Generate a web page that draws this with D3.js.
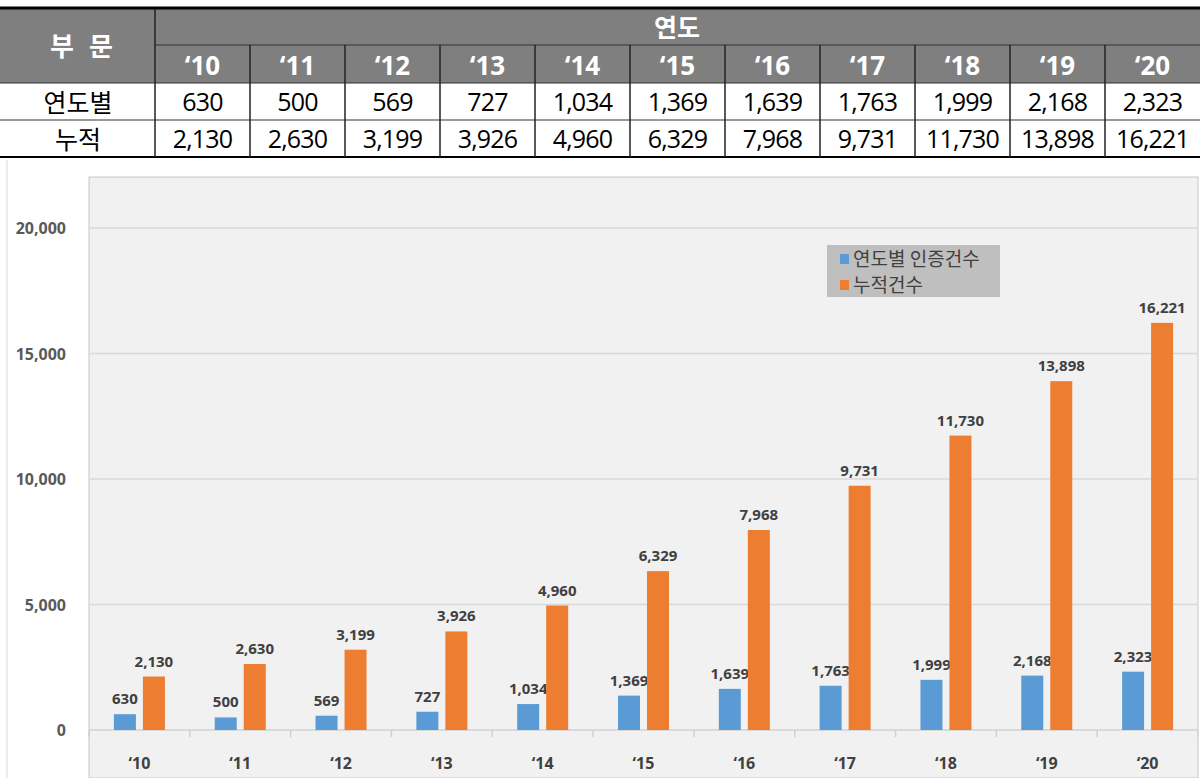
<!DOCTYPE html>
<html><head><meta charset="utf-8">
<script src="https://cdn.jsdelivr.net/npm/d3@7"></script>
<style>body{margin:0;background:#fff;}svg{display:block;}</style>
</head><body>
<svg id="c" width="1200" height="778"></svg>
<script>
const years = ["‘10","‘11","‘12","‘13","‘14","‘15","‘16","‘17","‘18","‘19","‘20"];
const annual = [630,500,569,727,1034,1369,1639,1763,1999,2168,2323];
const cumulative = [2130,2630,3199,3926,4960,6329,7968,9731,11730,13898,16221];
const yTicks = [0,5000,10000,15000,20000];
const seriesNames = ["연도별 인증건수","누적건수"];
const rowNames = ["연도별","누적"];
const headerLabels = ["부","문","연도"];

const svg = d3.select("#c");
const fmt = d3.format(",");
const KR = "'Noto Sans CJK KR','Noto Sans',sans-serif";
const OS = "'Open Sans',sans-serif";

// ---------- table ----------
const tx = d3.scaleBand().domain(years).range([155,1200]);
const tg = svg.append("g");
tg.append("rect").attr("x",0).attr("y",9).attr("width",1200).attr("height",74).attr("fill","#7f7f7f");
tg.append("line").attr("x1",0).attr("x2",1200).attr("y1",8).attr("y2",8).attr("stroke","#000").attr("stroke-width",3);
tg.append("line").attr("x1",155).attr("x2",1200).attr("y1",45).attr("y2",45).attr("stroke","#333").attr("stroke-width",1);
tg.append("line").attr("x1",0).attr("x2",1200).attr("y1",83).attr("y2",83).attr("stroke","#333").attr("stroke-width",1);
tg.append("line").attr("x1",0).attr("x2",1200).attr("y1",120).attr("y2",120).attr("stroke","#333").attr("stroke-width",1);
tg.append("line").attr("x1",0).attr("x2",1200).attr("y1",157).attr("y2",157).attr("stroke","#000").attr("stroke-width",2);
tg.append("line").attr("x1",155).attr("x2",155).attr("y1",9).attr("y2",157).attr("stroke","#222").attr("stroke-width",1.5);
years.forEach((y,i)=>{
  if(i>0) tg.append("line").attr("x1",tx(y)).attr("x2",tx(y)).attr("y1",45).attr("y2",157).attr("stroke","#222").attr("stroke-width",1.5);
});
tg.append("text").attr("x",62).attr("y",56).attr("text-anchor","middle").attr("font-family",KR).attr("font-weight","bold").attr("font-size",26).attr("fill","#fff").text(headerLabels[0]);
tg.append("text").attr("x",101).attr("y",56).attr("text-anchor","middle").attr("font-family",KR).attr("font-weight","bold").attr("font-size",26).attr("fill","#fff").text(headerLabels[1]);
tg.append("text").attr("x",677).attr("y",37).attr("text-anchor","middle").attr("font-family",KR).attr("font-weight","bold").attr("font-size",25).attr("fill","#fff").text(headerLabels[2]);
tg.selectAll(".yh").data(years).join("text").attr("x",d=>tx(d)+tx.bandwidth()/2).attr("y",75)
  .attr("text-anchor","middle").attr("font-family",OS).attr("font-weight","bold").attr("font-size",26).attr("fill","#fff").text(d=>d);
[annual,cumulative].forEach((arr,r)=>{
  const yb = r===0?112:149;
  tg.append("text").attr("x",78).attr("y",yb).attr("text-anchor","middle").attr("font-family",KR).attr("font-size",25).attr("fill","#000").text(rowNames[r]);
  tg.selectAll(".v"+r).data(arr).join("text").attr("x",(d,i)=>tx(years[i])+tx.bandwidth()/2).attr("y",yb-1)
    .attr("text-anchor","middle").attr("font-family",OS).attr("font-size",25).attr("fill","#000").attr("letter-spacing",-0.8).text(d=>fmt(d));
});

// ---------- chart ----------
const cg = svg.append("g");
cg.append("line").attr("x1",7).attr("x2",7).attr("y1",160).attr("y2",778).attr("stroke","#d9d9d9");
const x = d3.scaleBand().domain(years).range([89,1198]);
const y = d3.scaleLinear().domain([0,20000]).range([730,228]);
cg.append("rect").attr("x",89).attr("y",177).attr("width",1109).attr("height",601).attr("fill","#f1f1f1").attr("stroke","#c8c8c8");
cg.selectAll(".gl").data(yTicks.slice(1)).join("line").attr("x1",89).attr("x2",1198).attr("y1",d=>y(d)).attr("y2",d=>y(d)).attr("stroke","#d9d9d9").attr("stroke-width",1.5);
cg.append("line").attr("x1",89).attr("x2",1198).attr("y1",730).attr("y2",730).attr("stroke","#d0d0d0").attr("stroke-width",1.5);
cg.selectAll(".tk").data(years.concat(["end"])).join("line")
  .attr("x1",(d,i)=>i<years.length?x(d):1198).attr("x2",(d,i)=>i<years.length?x(d):1198)
  .attr("y1",730).attr("y2",737).attr("stroke","#d0d0d0").attr("stroke-width",1.5);
cg.selectAll(".yl").data(yTicks).join("text").attr("x",66).attr("y",d=>y(d)+6).attr("text-anchor","end")
  .attr("font-family",OS).attr("font-weight","bold").attr("font-size",16).attr("fill","#595959").text(d=>fmt(d));
cg.selectAll(".xl").data(years).join("text").attr("x",d=>x(d)+x.bandwidth()/2).attr("y",769).attr("text-anchor","middle")
  .attr("font-family",OS).attr("font-weight","bold").attr("font-size",16).attr("fill","#404040").text(d=>d);
const bw = 22;
const series = [{vals:annual,color:"#5b9bd5",off:-14.5},{vals:cumulative,color:"#ed7d31",off:14.5}];
series.forEach(s=>{
  cg.selectAll(null).data(s.vals).join("rect").attr("x",(d,i)=>x(years[i])+x.bandwidth()/2+s.off-bw/2)
    .attr("y",d=>y(d)).attr("width",bw).attr("height",d=>y(0)-y(d)).attr("fill",s.color);
  cg.selectAll(null).data(s.vals).join("text").attr("x",(d,i)=>x(years[i])+x.bandwidth()/2+s.off)
    .attr("y",d=>y(d)-10).attr("text-anchor","middle").attr("font-family",OS).attr("font-weight","bold")
    .attr("font-size",15).attr("fill","#404040").text(d=>fmt(d));
});
const lg = cg.append("g");
lg.append("rect").attr("x",827).attr("y",245).attr("width",173).attr("height",52).attr("fill","#bfbfbf");
series.forEach((s,i)=>{
  lg.append("rect").attr("x",840).attr("y",254+i*26).attr("width",9).attr("height",10).attr("fill",s.color);
  lg.append("text").attr("x",853).attr("y",266+i*26).attr("font-family",KR).attr("font-size",19).attr("fill","#404040").text(seriesNames[i]);
});
</script>
</body></html>
